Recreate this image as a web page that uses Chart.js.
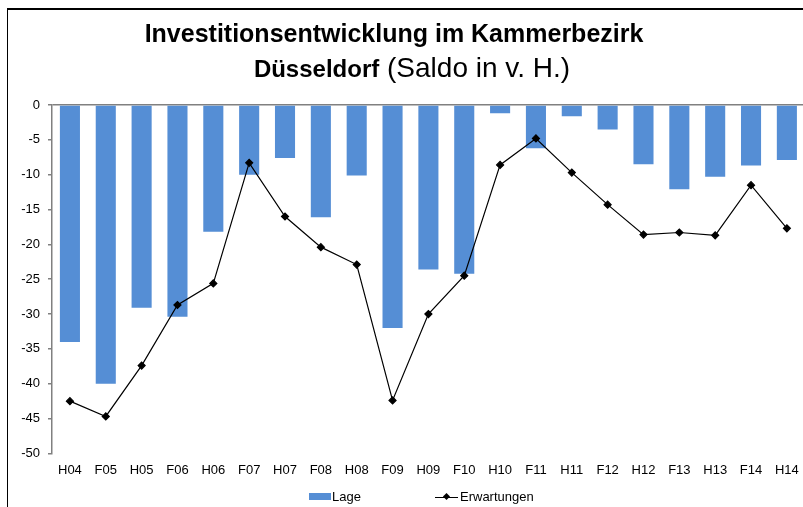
<!DOCTYPE html>
<html>
<head>
<meta charset="utf-8">
<script src="https://cdn.jsdelivr.net/npm/chart.js@4/dist/chart.umd.min.js"></script>
<style>
    body { margin: 0; width: 803px; height: 507px; overflow: hidden; background: #fff; font-family: "Liberation Sans", Arial, sans-serif; }
    #frame { position: absolute; left: 7px; top: 8px; width: 830px; height: 530px; border-left: 1.5px solid #000; border-top: 2px solid #000; }
    #title1 { position: absolute; left: 0; top: 17px; width: 788px; text-align: center; font-size: 25px; line-height: 32px; font-weight: bold; color: #000; }
    #title2 { position: absolute; left: 18px; top: 51px; width: 788px; text-align: center; font-size: 28px; line-height: 34px; color: #000; }
    #title2 b { font-size: 24px; }
    #wrap { position: absolute; left: 0; top: 0; width: 810px; height: 507px; }
    #legend { position: absolute; top: 489px; left: 0; font-size: 13px; color: #000; }
    .item { position: absolute; top: 0; white-space: nowrap; line-height: 16px; }
    .box { position: absolute; top: 4px; width: 22px; height: 7px; background: #558ED5; }
    .ln { position: absolute; top: 8px; width: 23px; height: 1px; background: #000; }
    .dm { position: absolute; top: 5px; width: 5px; height: 5px; background: #000; transform: rotate(45deg); }
</style>
</head>
<body>
<div id="frame"></div>
<div id="wrap"><canvas id="chart"></canvas></div>
<div id="title1">Investitionsentwicklung im Kammerbezirk</div>
<div id="title2"><b>Düsseldorf</b> (Saldo in v. H.)</div>
<div id="legend">
    <div class="box" style="left:309px"></div>
    <div class="item" style="left:332px">Lage</div>
    <div class="ln" style="left:435px"></div>
    <div class="dm" style="left:444px"></div>
    <div class="item" style="left:460px">Erwartungen</div>
</div>
<script>
"use strict";
// Data
var categories = ["H04", "F05", "H05", "F06", "H06", "F07", "H07", "F08", "H08", "F09", "H09",
    "F10", "H10", "F11", "H11", "F12", "H12", "F13", "H13", "F14", "H14"];
var lage = [-34.0, -40.0, -29.1, -30.4, -18.2, -10.0, -7.6, -16.1, -10.1, -32.0, -23.6,
    -24.2, -1.2, -6.2, -1.6, -3.5, -8.5, -12.1, -10.3, -8.7, -7.9];
var erwartungen = [-42.5, -44.7, -37.4, -28.7, -25.6, -8.3, -16.0, -20.4, -22.9, -42.4, -30.0,
    -24.5, -8.6, -4.8, -9.7, -14.3, -18.6, -18.3, -18.7, -11.5, -17.7];

var barBlue = "#558ED5";
var axisGray = "#808080";

Chart.defaults.font.family = '"Liberation Sans", Arial, sans-serif';
Chart.defaults.color = "#000";

var CHART = document.getElementById("chart");
var myChart = new Chart(CHART, {
    data: {
        labels: categories,
        datasets: [
            {
                type: "line",
                label: "Erwartungen",
                data: erwartungen,
                borderColor: "#000",
                backgroundColor: "#000",
                borderWidth: 1.2,
                tension: 0,
                pointStyle: "rectRot",
                pointRadius: 3.5,
                pointBackgroundColor: "#000",
                pointBorderColor: "#000",
                order: 0
            },
            {
                type: "bar",
                label: "Lage",
                data: lage,
                backgroundColor: barBlue,
                barPercentage: 0.56,
                categoryPercentage: 1,
                order: 1
            }
        ]
    },
    options: {
        responsive: true,
        maintainAspectRatio: false,
        animation: false,
        layout: { padding: { top: 105, right: 4, bottom: 28, left: 0 } },
        plugins: {
            legend: { display: false },
            title: { display: false },
            tooltip: { enabled: false }
        },
        scales: {
            x: {
                grid: { display: false },
                border: { display: false },
                ticks: { font: { size: 13 }, padding: 1, maxRotation: 0, autoSkip: false }
            },
            y: {
                min: -50,
                max: 0,
                ticks: { stepSize: 5, font: { size: 13 }, padding: 8 },
                border: { display: true, color: axisGray, width: 1.5 },
                grid: {
                    drawOnChartArea: true,
                    tickLength: 4,
                    tickColor: axisGray,
                    lineWidth: 1.5,
                    color: function (ctx) {
                        return ctx.tick && ctx.tick.value === 0 ? axisGray : "rgba(0,0,0,0)";
                    }
                },
                afterFit: function (scale) { scale.width = 52; }
            }
        }
    }
});
</script>
</body>
</html>
